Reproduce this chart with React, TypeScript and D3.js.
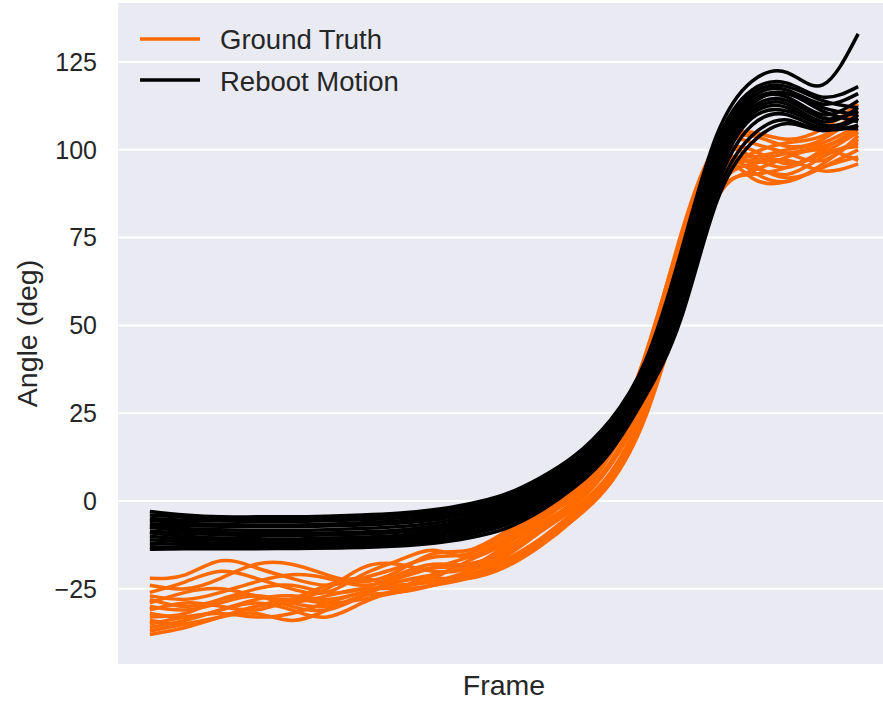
import React from 'react';
import * as d3 from 'd3';

// frame index of every sample
const frames = [0, 5, 10, 15, 20, 25, 30, 35, 40, 45, 50, 55, 60, 65, 70, 75, 80, 85, 90, 95, 100];

// Ground Truth trials (deg)
const gt01 = [-22, -21, -17, -19, -22, -24, -22, -19, -16, -15, -10, -4, 3, 17, 42, 75, 99, 104, 101, 103, 110];
const gt02 = [-24, -25, -22, -18, -18, -21, -23, -20, -15, -14, -9, -3, 3, 16, 40, 74, 100, 105, 103, 106, 113];
const gt03 = [-26, -23, -20, -22, -25, -26, -21, -17, -14, -16, -12, -5, 2, 14, 36, 70, 97, 100, 96, 99, 105];
const gt04 = [-27, -28, -26, -23, -21, -22, -24, -22, -19, -16, -11, -4, 2, 14, 38, 72, 98, 98, 95, 100, 106];
const gt05 = [-28, -30, -28, -25, -24, -26, -25, -21, -18, -18, -14, -7, 0, 11, 32, 66, 95, 96, 92, 95, 100];
const gt06 = [-29, -26, -25, -27, -28, -25, -19, -18, -20, -19, -13, -6, 2, 16, 41, 76, 101, 102, 99, 97, 104];
const gt07 = [-30, -31, -29, -27, -29, -30, -27, -23, -21, -18, -15, -8, -1, 10, 30, 64, 93, 98, 100, 102, 107];
const gt08 = [-31, -29, -30, -31, -28, -24, -22, -24, -22, -17, -12, -5, 1, 13, 35, 69, 96, 94, 91, 96, 103];
const gt09 = [-32, -33, -31, -28, -27, -28, -26, -24, -23, -20, -16, -9, -2, 8, 28, 61, 91, 97, 99, 101, 105];
const gt10 = [-33, -32, -28, -27, -30, -31, -27, -22, -19, -19, -17, -11, -3, 7, 27, 60, 90, 95, 93, 98, 102];
const gt11 = [-34, -35, -33, -30, -29, -27, -25, -25, -24, -21, -18, -12, -4, 6, 26, 58, 89, 99, 102, 104, 111];
const gt12 = [-35, -33, -32, -33, -32, -29, -26, -23, -22, -22, -19, -13, -5, 6, 25, 57, 88, 96, 97, 94, 96];
const gt13 = [-36, -34, -31, -29, -31, -33, -29, -25, -21, -19, -15, -8, 0, 11, 33, 67, 95, 92, 91, 95, 98];
const gt14 = [-37, -35, -33, -32, -34, -31, -27, -26, -24, -21, -17, -11, -4, 6, 25, 58, 87, 93, 95, 99, 101];
const gt15 = [-38, -36, -33, -30, -28, -29, -28, -26, -24, -22, -18, -12, -5, 5, 24, 56, 86, 94, 98, 100, 97];

// Reboot Motion trials (deg)
const rb01 = [-3, -4, -4.5, -4.5, -4.5, -4.3, -4, -3.5, -2.5, -0.8, 1.8, 6.5, 13, 23, 40, 71, 104, 119.5, 122, 118.5, 133];
const rb02 = [-4, -4.6, -5, -5.2, -5.2, -5, -4.7, -4.2, -3.2, -1.5, 1, 5.8, 12.4, 22.2, 39.3, 69.5, 102, 117, 119, 115, 118];
const rb03 = [-5, -5.5, -5.7, -5.8, -5.8, -5.6, -5.3, -4.8, -3.9, -2.2, 0.4, 5, 11.6, 21.6, 38.5, 68, 100, 116, 118, 114, 112];
const rb04 = [-5.5, -6.3, -6.7, -6.8, -6.8, -6.6, -6.2, -5.7, -4.7, -3, -0.4, 4.3, 11, 20.9, 37.7, 66.5, 99, 115, 117, 113, 116];
const rb05 = [-6.5, -7, -7.2, -7.3, -7.3, -7.1, -6.8, -6.3, -5.4, -3.7, -1.1, 3.6, 10.2, 20.2, 37, 65, 98, 114, 116, 112, 110];
const rb06 = [-7, -7.8, -8.2, -8.4, -8.4, -8.2, -7.8, -7.3, -6.3, -4.5, -1.8, 2.8, 9.5, 19.5, 36.2, 63.7, 97, 113.5, 115, 110, 114];
const rb07 = [-7.5, -8.5, -9, -9.2, -9.3, -9.1, -8.8, -8.3, -7.2, -5.3, -2.5, 2.1, 8.8, 18.8, 35.4, 62, 96, 113, 116, 111, 108];
const rb08 = [-8.5, -9.2, -9.6, -9.8, -9.8, -9.7, -9.4, -8.9, -7.9, -6, -3.3, 1.4, 8.2, 18.2, 34.6, 61, 95, 112, 114, 109, 111];
const rb09 = [-9, -10, -10.5, -10.7, -10.8, -10.6, -10.3, -9.8, -8.7, -6.8, -4, 0.7, 7.5, 17.5, 33.8, 59.3, 94, 111, 113, 108, 112];
const rb10 = [-10, -10.8, -11.2, -11.4, -11.5, -11.3, -11, -10.5, -9.4, -7.5, -4.8, -0.1, 6.8, 16.8, 33.1, 58, 92, 110, 112, 107, 109];
const rb11 = [-11, -11.6, -12, -12.1, -12.2, -12, -11.7, -11.2, -10.1, -8.2, -5.5, -0.8, 6.1, 16.1, 32.3, 56.4, 91, 109, 111, 107, 106];
const rb12 = [-12, -12.4, -12.7, -12.8, -12.8, -12.7, -12.4, -11.9, -10.9, -9, -6.3, -1.5, 5.4, 15.4, 31.5, 55, 89, 107, 110, 106, 107];
const rb13 = [-13, -13.2, -13.3, -13.4, -13.4, -13.3, -13, -12.5, -11.5, -9.7, -7, -2.3, 4.7, 14.7, 30.8, 53.5, 87, 104, 108.5, 105.5, 110];
const rb14 = [-13.7, -13.6, -13.6, -13.6, -13.5, -13.4, -13.2, -12.8, -12, -10.5, -8, -3, 4, 14, 30, 52, 85, 102, 107.5, 105.5, 109];

const yTicks = [-25, 0, 25, 50, 75, 100, 125];

const groundTruth = [gt01, gt02, gt03, gt04, gt05, gt06, gt07, gt08, gt09, gt10, gt11, gt12, gt13, gt14, gt15];
const reboot = [rb01, rb02, rb03, rb04, rb05, rb06, rb07, rb08, rb09, rb10, rb11, rb12, rb13, rb14];

const ORANGE = '#ff6a00';
const BLACK = '#000000';
const TEXT = '#262626';
const FONT = '"Liberation Sans", Arial, sans-serif';

const W = 883;
const H = 708;
const left = 118, right = 890, top = 3, bottom = 664;

export default function App() {
  const x = d3.scaleLinear().domain([-4.5, 104.5]).range([left, right]);
  const y = d3.scaleLinear().domain([-46.4, 141.8]).range([bottom, top]);

  const line = d3
    .line<number>()
    .x((d, i) => x(frames[i]))
    .y((d) => y(d))
    .curve(d3.curveNatural);

  return (
    <svg width={W} height={H} style={{ position: 'absolute', left: 0, top: 0 }} fontFamily={FONT}>
      <defs>
        <clipPath id="plot">
          <rect x={left} y={top} width={right - left} height={bottom - top} />
        </clipPath>
      </defs>
      <rect x={0} y={0} width={W} height={H} fill="#ffffff" />
      <rect x={left} y={top} width={right - left} height={bottom - top} fill="#eaeaf2" />

      {yTicks.map((t) => (
        <g key={t}>
          <line x1={left} x2={right} y1={y(t)} y2={y(t)} stroke="#ffffff" strokeWidth={2} />
          <text x={97} y={y(t)} dy="0.35em" textAnchor="end" fontSize={25} fill={TEXT}>
            {t < 0 ? '\u2212' + Math.abs(t) : t}
          </text>
        </g>
      ))}

      <g clipPath="url(#plot)" fill="none" strokeWidth={3.5} strokeLinecap="butt" strokeLinejoin="round">
        {groundTruth.map((s, i) => (
          <path key={'gt' + i} d={line(s) || ''} stroke={ORANGE} />
        ))}
        {reboot.map((s, i) => (
          <path key={'rb' + i} d={line(s) || ''} stroke={BLACK} />
        ))}
      </g>

      {/* legend */}
      <line x1={140} x2={200} y1={39} y2={39} stroke={ORANGE} strokeWidth={3.5} />
      <text x={220} y={48.5} fontSize={27.5} fill={TEXT}>Ground Truth</text>
      <line x1={140} x2={200} y1={80} y2={80} stroke={BLACK} strokeWidth={3.5} />
      <text x={220} y={90.5} fontSize={27.5} fill={TEXT}>Reboot Motion</text>

      <text x={(left + right) / 2} y={695} textAnchor="middle" fontSize={28.5} fill={TEXT}>Frame</text>
      <text transform={`translate(37, ${(top + bottom) / 2}) rotate(-90)`} textAnchor="middle" fontSize={28.5} fill={TEXT}>
        Angle (deg)
      </text>
    </svg>
  );
}
